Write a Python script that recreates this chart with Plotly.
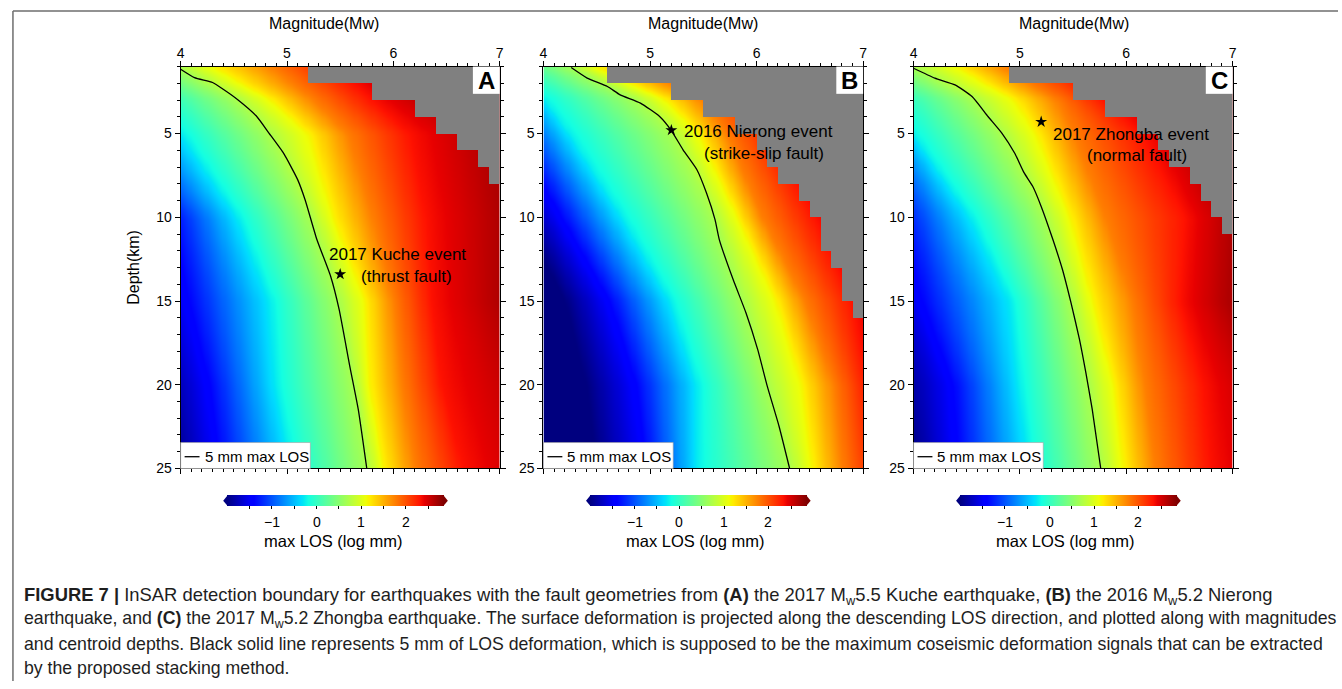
import numpy as np
import plotly.graph_objects as go

W, H = 1342, 689
YS = 1.01  # small vertical calibration of pixel positions
FONT = "Liberation Sans, Arial, Helvetica, sans-serif"

# ---------------- data ----------------
MAG_TICKS = [4, 5, 6, 7]
DEPTH_TICKS = [5, 10, 15, 20, 25]
CBAR_MINOR = [-1.5, -1, -0.5, 0, 0.5, 1, 1.5, 2, 2.5]
CBAR_LABEL_VALS = [-1, 0, 1, 2]
CBAR_LABELS = ["−1", "0", "1", "2"]
CBAR_RANGE = [-2.0, 2.85]

# log10(max LOS in mm) levels and, per panel, the magnitude where each level
# is reached at the listed depths (read from the colour bands)
LOS_LEVELS = [-2.0, -1.43, -0.25, 0.70, 1.15, 1.76, 2.32, 2.65]
TABLE_DEPTHS = [1, 3, 5, 10, 15, 20, 25]

ISO_MAG_A = [
    [2.3, 2.7, 3.3, 3.98, 4.30, 4.85, 5.45, 5.9],
    [2.8, 3.2, 3.75, 4.54, 4.85, 5.25, 5.80, 6.4],
    [2.9, 3.3, 4.02, 4.83, 5.20, 5.57, 6.15, 6.9],
    [3.5, 3.9, 4.55, 5.22, 5.43, 5.80, 6.30, 7.0],
    [3.6, 4.05, 4.85, 5.49, 5.73, 6.00, 6.35, 7.0],
    [3.8, 4.25, 4.90, 5.63, 5.77, 6.08, 6.45, 7.3],
    [3.95, 4.35, 5.05, 5.75, 5.90, 6.20, 6.65, 7.5],
]
ISO_MAG_B = [
    [2.7, 3.1, 3.6, 4.26, 4.48, 4.90, 5.40, 5.8],
    [3.2, 3.55, 4.02, 4.89, 5.15, 5.50, 6.00, 6.4],
    [3.35, 3.7, 4.25, 5.21, 5.45, 5.72, 6.15, 6.6],
    [3.8, 4.15, 4.75, 5.60, 5.82, 6.05, 6.55, 7.0],
    [4.2, 4.6, 5.2, 5.88, 6.18, 6.45, 6.90, 7.3],
    [4.4, 4.85, 5.45, 6.10, 6.42, 6.72, 7.05, 7.5],
    [4.5, 4.95, 5.45, 6.31, 6.52, 6.80, 7.15, 7.6],
]
ISO_MAG_C = [
    [2.3, 2.7, 3.3, 4.00, 4.40, 4.85, 5.45, 5.9],
    [2.8, 3.2, 3.78, 4.58, 4.95, 5.35, 5.80, 6.3],
    [3.2, 3.55, 4.0, 4.83, 5.15, 5.50, 6.15, 6.7],
    [3.6, 3.85, 4.55, 5.24, 5.47, 5.80, 6.55, 7.0],
    [3.7, 4.05, 4.92, 5.48, 5.68, 6.05, 6.50, 6.95],
    [3.85, 4.35, 5.0, 5.64, 5.88, 6.17, 6.72, 7.3],
    [4.0, 4.4, 5.1, 5.76, 5.97, 6.27, 6.78, 7.5],
]

# magnitude from which the grid is grey, for each 1-km depth row starting at 1 km
GRAY_FROM_A = [5.2, 5.8, 6.2, 6.4, 6.6, 6.8, 6.9]
GRAY_FROM_B = [4.6, 5.2, 5.5, 5.8, 6.0, 6.1, 6.2, 6.4, 6.5, 6.6, 6.6, 6.7, 6.8, 6.8, 6.9]
GRAY_FROM_C = [4.9, 5.5, 5.8, 6.1, 6.3, 6.4, 6.6, 6.7, 6.8, 6.9]

# 5 mm max-LOS contour (magnitude, depth)
C5_MAG_A = [4.00, 4.13, 4.30, 4.40, 4.54, 4.71, 4.83, 4.97, 5.10, 5.17, 5.28, 5.41, 5.49, 5.59, 5.67, 5.75]
C5_DEP_A = [1.16, 1.66, 1.95, 2.35, 2.99, 3.94, 4.97, 6.20, 7.75, 8.95, 11.31, 13.52, 15.5, 18.88, 21.47, 25.0]
C5_MAG_B = [4.26, 4.41, 4.60, 4.72, 4.91, 5.09, 5.20, 5.31, 5.44, 5.53, 5.61, 5.65, 5.78, 5.90, 6.01, 6.10, 6.21, 6.31]
C5_DEP_B = [1.06, 1.69, 2.19, 2.69, 3.18, 3.98, 4.82, 5.97, 7.16, 8.55, 10.14, 11.33, 13.72, 15.70, 17.89, 20.08, 22.46, 25.0]
C5_MAG_C = [4.00, 4.20, 4.39, 4.55, 4.70, 4.83, 4.95, 5.04, 5.12, 5.20, 5.31, 5.40, 5.48, 5.56, 5.62, 5.68, 5.76]
C5_DEP_C = [1.10, 1.69, 2.09, 2.79, 3.98, 4.97, 6.16, 7.35, 8.15, 9.35, 11.33, 13.12, 15.1, 17.29, 19.28, 21.47, 25.0]

# events (magnitude, depth, label lines)
EVENT_MAG = [5.5, 5.2, 5.2]
EVENT_DEP = [13.4, 4.8, 4.3]
EVENT_LINE1 = ["2017 Kuche event", "2016 Nierong event", "2017 Zhongba event"]
EVENT_LINE2 = ["(thrust fault)", "(strike-slip fault)", "(normal fault)"]
PANEL_LETTERS = ["A", "B", "C"]

CAPTION = [
    "<b>FIGURE 7 |</b> InSAR detection boundary for earthquakes with the fault geometries from <b>(A)</b> the 2017 M<sub>w</sub>5.5 Kuche earthquake, <b>(B)</b> the 2016 M<sub>w</sub>5.2 Nierong",
    "earthquake, and <b>(C)</b> the 2017 M<sub>w</sub>5.2 Zhongba earthquake. The surface deformation is projected along the descending LOS direction, and plotted along with magnitudes",
    "and centroid depths. Black solid line represents 5 mm of LOS deformation, which is supposed to be the maximum coseismic deformation signals that can be extracted",
    "by the proposed stacking method.",
]

# ---------------- helpers ----------------
def jet_scale():
    ps = sorted(set(np.round(np.concatenate([np.linspace(0, 1, 41),
                 [0.11, 0.125, 0.34, 0.35, 0.375, 0.64, 0.65, 0.66, 0.89, 0.91]]), 4)))
    out = []
    for p in ps:
        r = np.interp(p, [0, 0.35, 0.66, 0.89, 1], [0, 0, 1, 1, 0.5])
        g = np.interp(p, [0, 0.125, 0.375, 0.64, 0.91, 1], [0, 0, 1, 1, 0, 0])
        b = np.interp(p, [0, 0.11, 0.34, 0.65, 1], [0.5, 1, 1, 0, 0])
        out.append([float(p), f"rgb({int(r*255)},{int(g*255)},{int(b*255)})"])
    return out

JET = jet_scale()

M_CENT = np.arange(4.01, 7.0, 0.02)
D_CENT = np.arange(1.125, 25.0, 0.25)

def build_grid(table):
    t = np.array(table)
    z = np.empty((len(D_CENT), len(M_CENT)))
    for i, d in enumerate(D_CENT):
        mlev = [np.interp(d, TABLE_DEPTHS, t[:, k]) for k in range(t.shape[1])]
        z[i] = np.interp(M_CENT, mlev, LOS_LEVELS)
    return z

M_EDGES = np.round(np.arange(4.0, 7.0001, 0.1), 2)
D_EDGES = np.arange(1, 26)

def gray_grid(gray_from):
    z = np.full((len(D_EDGES) - 1, len(M_EDGES) - 1), np.nan)
    for r, thr in enumerate(gray_from):
        for c in range(len(M_EDGES) - 1):
            if (M_EDGES[c] + M_EDGES[c + 1]) / 2 > thr:
                z[r, c] = 1.0
    return z

def px(x):
    return x / W

def py(y):
    return 1 - y * YS / H

# ---------------- figure ----------------
PANEL_X = [(177.7, 498.7), (542.7, 864.3), (915.0, 1236.0)]
PLOT_TOP, PLOT_BOT = 66.7, 469.3
TITLE_X = [322, 703.5, 1076.5]

tables = [ISO_MAG_A, ISO_MAG_B, ISO_MAG_C]
grays = [GRAY_FROM_A, GRAY_FROM_B, GRAY_FROM_C]
c5 = [(C5_MAG_A, C5_DEP_A), (C5_MAG_B, C5_DEP_B), (C5_MAG_C, C5_DEP_C)]

fig = go.Figure()
layout = dict(
    width=W, height=H, margin=dict(l=0, r=0, t=0, b=0),
    paper_bgcolor="white", plot_bgcolor="white", showlegend=False,
    font=dict(family=FONT, color="black", size=14),
)
shapes, annos = [], []
CB_TOP, CB_BOT = 496, 507
CB_LEN = 217

for i in range(3):
    sfx = "" if i == 0 else str(i + 1)
    xa, ya = "x" + sfx, "y" + sfx
    ca = "coloraxis" + sfx
    x0, x1 = PANEL_X[i]

    fig.add_trace(go.Heatmap(x=M_CENT, y=D_CENT, z=build_grid(tables[i]), coloraxis=ca,
                             zsmooth="best", xaxis=xa, yaxis=ya, hoverinfo="skip"))
    fig.add_trace(go.Heatmap(x=M_EDGES, y=D_EDGES, z=gray_grid(grays[i]),
                             colorscale=[[0, "rgb(128,128,128)"], [1, "rgb(128,128,128)"]],
                             showscale=False, xaxis=xa, yaxis=ya, hoverinfo="skip"))
    fig.add_trace(go.Scatter(x=c5[i][0], y=c5[i][1], mode="lines",
                             line=dict(color="black", width=1.3, shape="spline", smoothing=0.5),
                             xaxis=xa, yaxis=ya))
    fig.add_trace(go.Scatter(x=[EVENT_MAG[i]], y=[EVENT_DEP[i]], mode="markers",
                             marker=dict(symbol="star", size=9, color="black"),
                             xaxis=xa, yaxis=ya))

    axis_common = dict(showline=True, linecolor="black", linewidth=1, mirror="ticks",
                       ticks="outside", tickcolor="black", ticklen=5, tickwidth=1,
                       showgrid=False, zeroline=False, tickfont=dict(size=14, family=FONT))
    layout["xaxis" + sfx] = dict(axis_common, domain=[px(x0), px(x1)], range=[4, 7],
                                  side="top", tickvals=MAG_TICKS, anchor=ya,
                                  ticklabelstandoff=-3,
                                  minor=dict(dtick=0.1, tick0=4, ticklen=3, ticks="outside",
                                             tickcolor="black", showgrid=False))
    layout["yaxis" + sfx] = dict(axis_common, domain=[py(PLOT_BOT), py(PLOT_TOP)], range=[25, 1],
                                  tickvals=DEPTH_TICKS, anchor=xa,
                                  minor=dict(dtick=1, tick0=0, ticklen=3, ticks="outside",
                                             tickcolor="black", showgrid=False))

    # colour axis + bar
    cx0 = x0 + 47.3
    cx1 = cx0 + CB_LEN
    layout[ca] = dict(colorscale=JET, cmin=CBAR_RANGE[0], cmax=CBAR_RANGE[1],
                      colorbar=dict(orientation="h", x=px((cx0 + cx1) / 2), xanchor="center",
                                    y=py(CB_TOP), yanchor="top", len=CB_LEN, lenmode="pixels",
                                    thickness=11 * YS, thicknessmode="pixels", outlinewidth=0,
                                    xpad=0, ypad=0, tickvals=CBAR_MINOR, showticklabels=False,
                                    ticks="outside", ticklen=3, tickcolor="black"))
    span = CBAR_RANGE[1] - CBAR_RANGE[0]
    for v, lab in zip(CBAR_LABEL_VALS, CBAR_LABELS):
        annos.append(dict(text=lab, xref="paper", yref="paper",
                          x=px(cx0 + (v - CBAR_RANGE[0]) / span * CB_LEN), y=py(522.5),
                          xanchor="center", yanchor="middle", showarrow=False,
                          font=dict(size=14, family=FONT)))
    annos.append(dict(text="max LOS (log mm)", xref="paper", yref="paper",
                      x=px((cx0 + cx1) / 2 - 3), y=py(541.5), xanchor="center",
                      yanchor="middle", showarrow=False, font=dict(size=16.5, family=FONT)))
    # end triangles of the colour bar
    cm = (CB_TOP + CB_BOT) / 2
    shapes.append(dict(type="path", xref="paper", yref="paper", line=dict(width=0),
                       fillcolor="rgb(0,0,128)",
                       path=f"M {px(cx0)},{py(CB_TOP)} L {px(cx0-4.5)},{py(cm)} L {px(cx0)},{py(CB_BOT)} Z"))
    shapes.append(dict(type="path", xref="paper", yref="paper", line=dict(width=0),
                       fillcolor="rgb(128,0,0)",
                       path=f"M {px(cx1)},{py(CB_TOP)} L {px(cx1+4.5)},{py(cm)} L {px(cx1)},{py(CB_BOT)} Z"))

    # panel letter box
    shapes.append(dict(type="rect", xref=xa + " domain", yref=ya + " domain",
                       x0=1 - 27 / (x1 - x0), x1=1, y0=1 - 27.3 / (PLOT_BOT - PLOT_TOP), y1=1,
                       fillcolor="white", line=dict(width=0)))
    annos.append(dict(text=f"<b>{PANEL_LETTERS[i]}</b>", xref="paper", yref="paper",
                      x=px(x1 - 13.5), y=py(80.5), showarrow=False, xanchor="center",
                      yanchor="middle", font=dict(size=24, family=FONT)))

    # legend box
    shapes.append(dict(type="rect", xref=xa + " domain", yref=ya + " domain",
                       x0=0, x1=130.5 / (x1 - x0), y0=0, y1=26 / (PLOT_BOT - PLOT_TOP),
                       fillcolor="white", line=dict(color="rgb(160,160,160)", width=0.6)))
    shapes.append(dict(type="line", xref="paper", yref="paper",
                       x0=px(x0 + 4), x1=px(x0 + 19), y0=py(457.5), y1=py(457.5),
                       line=dict(color="black", width=1.3)))
    annos.append(dict(text="5 mm max LOS", xref="paper", yref="paper", x=px(x0 + 22),
                      y=py(457), xanchor="left", yanchor="middle", showarrow=False,
                      font=dict(size=15, family=FONT)))

    # axis title
    annos.append(dict(text="Magnitude(Mw)", xref="paper", yref="paper", x=px(TITLE_X[i]),
                      y=py(24), xanchor="center", yanchor="middle", showarrow=False,
                      font=dict(size=16, family=FONT)))

# y-axis title (panel A only)
annos.append(dict(text="Depth(km)", xref="paper", yref="paper", x=px(130), y=py(268),
                  xanchor="center", yanchor="middle", textangle=-90, showarrow=False,
                  font=dict(size=16, family=FONT)))

# event labels
ev_pos = [((395.5, 255), (405, 276.7)), ((759.5, 131.7), (764.9, 153.3)),
          ((1133.3, 134.3), (1140, 156))]
for i in range(3):
    (ax1, ay1), (ax2, ay2) = ev_pos[i]
    annos.append(dict(text=EVENT_LINE1[i], xref="paper", yref="paper", x=px(ax1), y=py(ay1),
                      xanchor="center", yanchor="middle", showarrow=False,
                      font=dict(size=17, family=FONT)))
    annos.append(dict(text=EVENT_LINE2[i], xref="paper", yref="paper", x=px(ax2), y=py(ay2),
                      xanchor="center", yanchor="middle", showarrow=False,
                      font=dict(size=17, family=FONT)))

# caption
cap_y = [597, 621, 645, 669]
cap_size = [18.4, 17.7, 17.7, 17.7]
for line, yy, fs in zip(CAPTION, cap_y, cap_size):
    annos.append(dict(text=line, xref="paper", yref="paper", x=px(18), y=py(yy),
                      xanchor="left", yanchor="middle", showarrow=False,
                      font=dict(size=fs, family=FONT, color="rgb(30,30,30)")))

# figure frame (top and left)
shapes.append(dict(type="line", xref="paper", yref="paper", x0=px(9), x1=1.0,
                   y0=py(11), y1=py(11), line=dict(color="rgb(110,110,110)", width=1.5)))
shapes.append(dict(type="line", xref="paper", yref="paper", x0=px(9), x1=px(9),
                   y0=py(11), y1=0.0, line=dict(color="rgb(110,110,110)", width=1.5)))

layout["shapes"] = shapes
layout["annotations"] = annos
fig.update_layout(**layout)
fig.write_html("out.html")
